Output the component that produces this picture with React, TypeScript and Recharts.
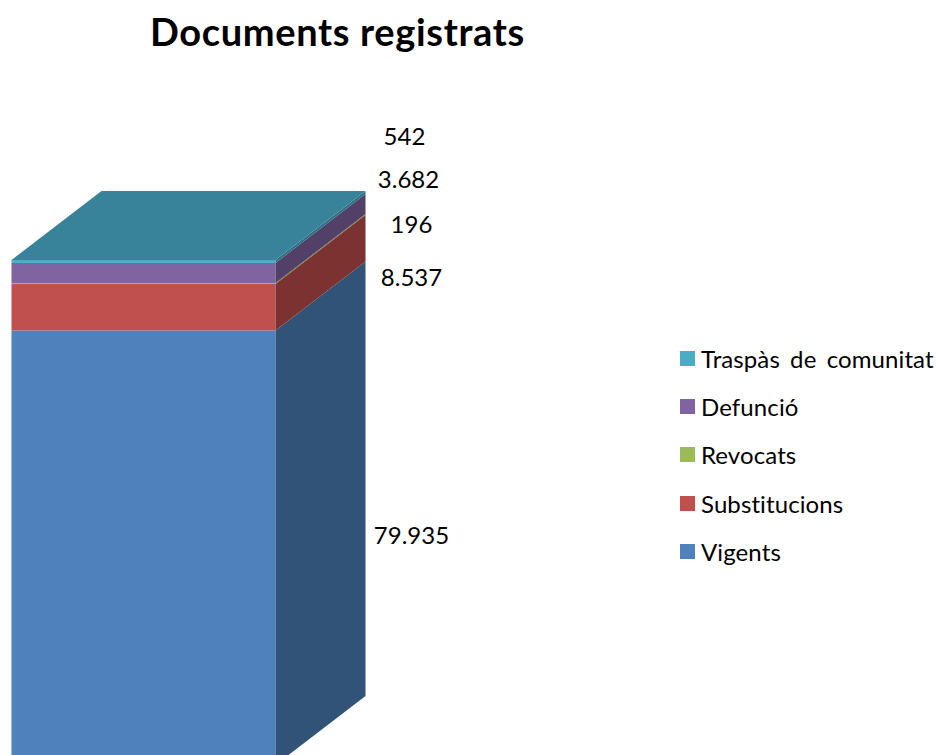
import React from "react";
import { BarChart, Bar, XAxis, YAxis, Legend, LabelList } from "recharts";

const categories = ["Documents registrats"];
const seriesNames = ["Vigents", "Substitucions", "Revocats", "Defunció", "Traspàs de comunitat"];
const seriesValues = [79935, 8537, 196, 3682, 542];
const frontColors = ["#4F81BD", "#C0504D", "#9BBB59", "#8064A2", "#4BACC6"];
const sideColors = ["#325378", "#7B3231", "#667B3A", "#534068", "#2F7084"];
const topColor = "#38839A";

// hand placed like the original's dragged data labels, relative to the side face
const labelNudge = [
    { dx: 136, dy: -13 },
    { dx: 136, dy: -31 },
    { dx: 136, dy: -60 },
    { dx: 133, dy: -94 },
    { dx: 129, dy: -126 },
];

const DEPTH_X = 90;
const DEPTH_Y = 69;
const FONT = "Lato, 'Open Sans', sans-serif";

const data = categories.map((name) => {
    const row: Record<string, string | number> = { name };
    seriesNames.forEach((s, i) => {
        row[s] = seriesValues[i];
    });
    return row;
});

function formatValue(v: number) {
    return String(v).replace(/\B(?=(\d{3})+$)/g, ".");
}

function makeShape(index: number) {
    return function BoxShape(props: any) {
        const { x, y, width, height } = props;
        const right = x + width;
        const side = `${right},${y} ${right + DEPTH_X},${y - DEPTH_Y} ${right + DEPTH_X},${y + height - DEPTH_Y} ${right},${y + height}`;
        const top = `${x},${y} ${x + DEPTH_X},${y - DEPTH_Y} ${right + DEPTH_X},${y - DEPTH_Y} ${right},${y}`;
        return (
            <g>
                <rect x={x} y={y} width={width} height={height} fill={frontColors[index]} />
                <polygon points={side} fill={sideColors[index]} />
                {index === seriesNames.length - 1 && <polygon points={top} fill={topColor} />}
            </g>
        );
    };
}

function makeLabel(index: number) {
    return function ValueLabel(props: any) {
        const { x, y, width, height, value } = props;
        const nudge = labelNudge[index];
        return (
            <text
                x={x + width + nudge.dx}
                y={y + height / 2 + nudge.dy}
                textAnchor="middle"
                dominantBaseline="central"
                fontFamily={FONT}
                fontSize={24}
                fill="#000"
            >
                {formatValue(value)}
            </text>
        );
    };
}

function LegendList({ payload }: any) {
    const items = [...(payload || [])].reverse();
    return (
        <div
            style={{
                fontFamily: FONT,
                fontSize: 24,
                letterSpacing: 0.1,
                wordSpacing: 4,
                fontVariantLigatures: "none",
                color: "#000",
            }}
        >
            {items.map((item: any) => (
                <div key={item.value} style={{ display: "flex", alignItems: "center", height: 48.3, whiteSpace: "nowrap" }}>
                    <span style={{ width: 15, height: 15, background: item.color, marginRight: 6 }} />
                    {item.value}
                </div>
            ))}
        </div>
    );
}

export default function App() {
    return (
        <div style={{ position: "fixed", left: 0, top: 0, width: 937, height: 755, overflow: "hidden", background: "#fff" }}>
            <div
                style={{
                    position: "absolute",
                    left: 150,
                    top: 8,
                    fontFamily: FONT,
                    fontWeight: 700,
                    fontSize: 38,
                    letterSpacing: 0.65,
                    lineHeight: "46px",
                    whiteSpace: "nowrap",
                }}
            >
                Documents registrats
            </div>
            <BarChart
                width={937}
                height={800}
                data={data}
                margin={{ top: 260, right: 405, bottom: 35, left: 11.5 }}
                barCategoryGap={0}
            >
                <XAxis dataKey="name" hide />
                <YAxis hide domain={[0, 92892]} />
                <Legend
                    layout="vertical"
                    align="right"
                    verticalAlign="middle"
                    width={257}
                    itemSorter={null}
                    content={<LegendList />}
                    wrapperStyle={{ left: 680, top: 334, right: "auto", bottom: "auto" }}
                />
                {seriesNames.map((s, i) => (
                    <Bar
                        key={s}
                        dataKey={s}
                        name={s}
                        stackId="total"
                        fill={frontColors[i]}
                        shape={makeShape(i)}
                        isAnimationActive={false}
                    >
                        <LabelList dataKey={s} content={makeLabel(i)} />
                    </Bar>
                ))}
            </BarChart>
        </div>
    );
}
